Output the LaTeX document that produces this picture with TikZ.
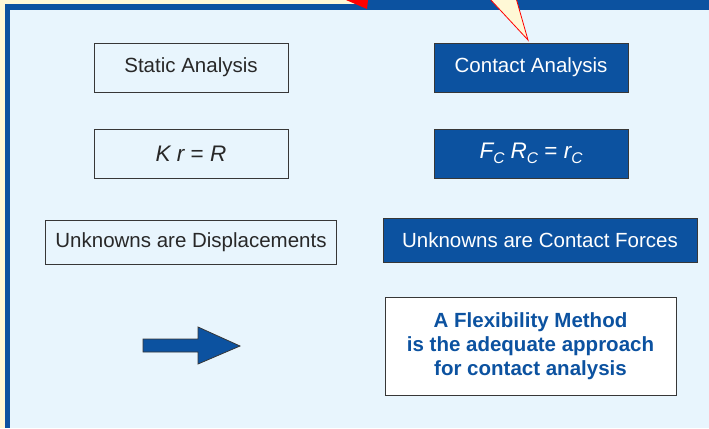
\documentclass[tikz,border=0pt]{standalone}
\usepackage{fontspec}
\setmainfont{Liberation Sans}
\usetikzlibrary{positioning}
\definecolor{frameblue}{RGB}{12,82,160}
\definecolor{paleblue}{RGB}{232,245,253}
\definecolor{cream}{RGB}{255,248,214}
\definecolor{boxline}{RGB}{55,55,55}
\definecolor{textgray}{RGB}{40,40,40}
\newcommand{\lowc}{\raisebox{-0.4ex}{\fontsize{15.5bp}{15.5bp}\selectfont\itshape C}}

\begin{document}
\begin{tikzpicture}[x=1bp, y=-1bp, node distance=36bp,
    plain/.style = {draw=boxline, line width=1bp, fill=paleblue, text=textgray, inner sep=0pt,
                    font=\fontsize{20.5bp}{24bp}\selectfont, minimum width=194bp, minimum height=49bp},
    dark/.style = {plain, fill=frameblue, text=white},
    eqn/.style = {font=\fontsize{22.5bp}{24bp}\selectfont\itshape}]
	\useasboundingbox (0,0) rectangle (709,428);
	% frame
	\fill[cream] (0,0) rectangle (709,428);
	\fill[frameblue] (5,4) rectangle (709,428);
	\fill[frameblue] (367,0) rectangle (709,10);
	\fill[red] (346,0) -- (368,0) -- (367,9) -- cycle;
	\fill[paleblue] (10,10) rectangle (709,428);
	\draw[red, fill=cream, line width=0.8bp] (489,-2) -- (528,40) -- (516,-2);
	% boxes
	\node[plain] (static) at (191,67.5) {Static Analysis};
	\node[plain, eqn] (kr) [below=of static] {K r {\upshape =} R};
	\node[plain, minimum width=291bp, minimum height=44bp] (unkd) [below=41bp of kr] {Unknowns are Displacements};
	\node[dark] (contact) [right=145bp of static] {Contact Analysis};
	\node[dark, eqn] (fc) [right=145bp of kr] {F\lowc\ R\lowc\ {\upshape =} r\lowc};
	\node[dark, minimum width=314bp, minimum height=44bp] (unkc) at (540,240) {Unknowns are Contact Forces};
	\node[plain, fill=white, text=frameblue, align=center, minimum width=291bp, minimum height=98bp,
	      font=\fontsize{20.5bp}{24bp}\selectfont\bfseries] (flex) at (530.5,346)
	      {A Flexibility Method\\is the adequate approach\\for contact analysis};
	% arrow
	\draw[boxline, fill=frameblue, line width=0.8bp] (143,339) -- (198,339) -- (198,327) -- (240,346)
	      -- (198,364) -- (198,352) -- (143,352) -- cycle;
\end{tikzpicture}
\end{document}
